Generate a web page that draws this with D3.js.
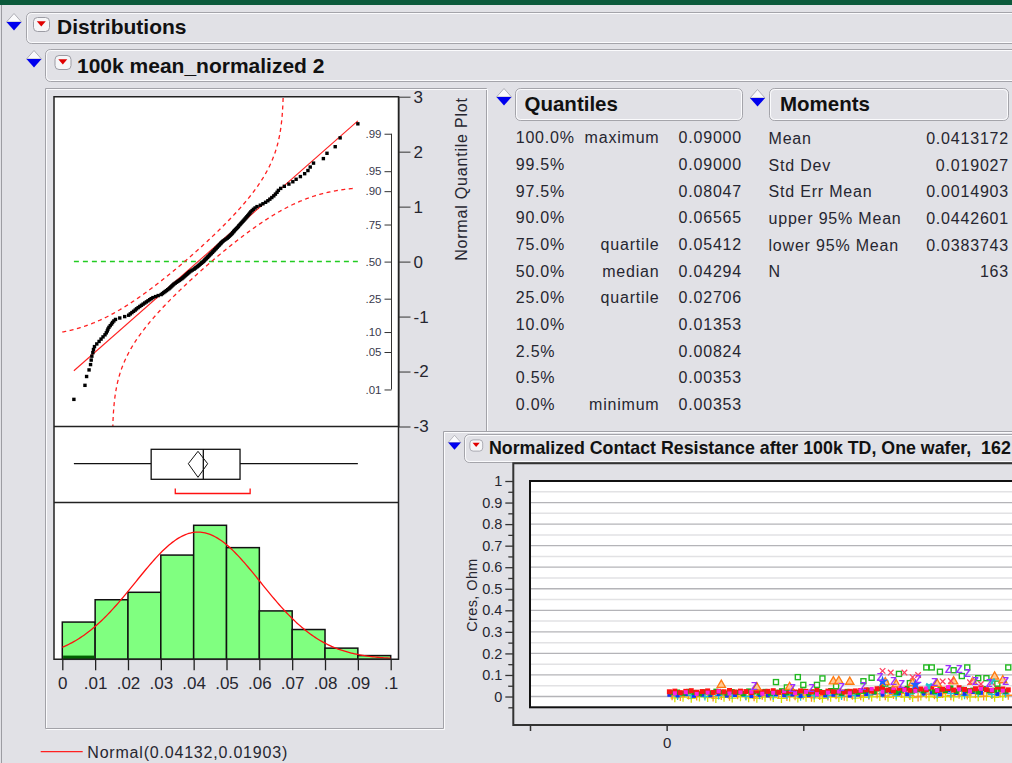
<!DOCTYPE html>
<html lang="en">
<head>
<meta charset="UTF-8">
<title>Distributions - 100k mean_normalized 2</title>
<script src="https://cdn.jsdelivr.net/npm/d3@7"></script>
<style>
  body { margin: 0; background: #e1e1e6; overflow: hidden; }
  svg { display: block; font-family: "Liberation Sans", Arial, sans-serif; }
</style>
</head>
<body>
<script>

const values = [
  0.00353, 0.00690, 0.00740, 0.00815, 0.00860, 0.00880, 0.00900, 0.00930, 0.00950, 0.00980,
  0.0105, 0.0112, 0.0118, 0.0124, 0.0130, 0.0134, 0.0137, 0.0139, 0.0142, 0.0146, 0.0150, 0.0153, 0.0157, 0.0162, 0.0175, 0.0190,
  0.0202, 0.0207, 0.0212, 0.0217, 0.0222, 0.0226, 0.0231, 0.0236, 0.0241, 0.0246, 0.0251, 0.0256, 0.0261, 0.0266, 0.02706, 0.0276, 0.0284, 0.0292,
  0.0301, 0.0305, 0.0309, 0.0313, 0.0317, 0.0321, 0.0325, 0.0328, 0.0331, 0.0334, 0.0337, 0.0340, 0.0344, 0.0348,
  0.0352, 0.0356, 0.0360, 0.0364, 0.0367, 0.0370, 0.0373, 0.0376, 0.0379, 0.0382, 0.0385, 0.0388, 0.0392, 0.0396,
  0.0401, 0.0404, 0.0407, 0.0411, 0.0414, 0.0417, 0.0420, 0.0423, 0.0426, 0.04294, 0.0432, 0.0434, 0.0437, 0.0439, 0.0442, 0.0444,
  0.0447, 0.0449, 0.0452, 0.0454, 0.0457, 0.0459, 0.0462, 0.0464, 0.0467, 0.0469, 0.0472, 0.0474, 0.0477, 0.0479, 0.0482, 0.0484,
  0.0487, 0.0490, 0.0494, 0.0498,
  0.0502, 0.0505, 0.0508, 0.0511, 0.0514, 0.0517, 0.0519, 0.0522, 0.0524, 0.0527, 0.0530, 0.0533, 0.0536, 0.0538, 0.05412,
  0.0544, 0.0547, 0.0550, 0.0553, 0.0556, 0.0559, 0.0562, 0.0565, 0.0568, 0.0571, 0.0574, 0.0578, 0.0582, 0.0587, 0.0593,
  0.0603, 0.0611, 0.0619, 0.0626, 0.0632, 0.0638, 0.0644, 0.0649, 0.0654, 0.0658, 0.0665, 0.0676, 0.0690,
  0.0702, 0.0712, 0.0725, 0.0738, 0.0748, 0.0755, 0.0765, 0.0795,
  0.0806, 0.0831, 0.0846,
  0.0900
];
const binEdges = [0, 0.01, 0.02, 0.03, 0.04, 0.05, 0.06, 0.07, 0.08, 0.09, 0.1];
const binLabels = ["0", ".01", ".02", ".03", ".04", ".05", ".06", ".07", ".08", ".09", ".1"];
const selectedPerBin = [1, 0, 0, 0, 0, 0, 0, 0, 0, 0];
const shortestHalf = [0.0344, 0.0572];

const zTicks = [-3, -2, -1, 0, 1, 2, 3];
const probTicks = [0.01, 0.05, 0.10, 0.25, 0.50, 0.75, 0.90, 0.95, 0.99];
const probLabels = [".01", ".05", ".10", ".25", ".50", ".75", ".90", ".95", ".99"];

// Quantiles table
const qLevels = ["100.0%", "99.5%", "97.5%", "90.0%", "75.0%", "50.0%", "25.0%", "10.0%", "2.5%", "0.5%", "0.0%"];
const qNames = ["maximum", "", "", "", "quartile", "median", "quartile", "", "", "", "minimum"];
const qValues = [0.09000, 0.09000, 0.08047, 0.06565, 0.05412, 0.04294, 0.02706, 0.01353, 0.00824, 0.00353, 0.00353];

// Moments table
const mNames = ["Mean", "Std Dev", "Std Err Mean", "upper 95% Mean", "lower 95% Mean", "N"];
const mValues = [0.0413172, 0.019027, 0.0014903, 0.0442601, 0.0383743, 163];

// Normalized Contact Resistance chart (site number -> Cres, values in milliohm)
const cresTicks = [0, 0.1, 0.2, 0.3, 0.4, 0.5, 0.6, 0.7, 0.8, 0.9, 1];
const cresMinor = [-0.05, 0.05, 0.15, 0.25, 0.35, 0.45, 0.55, 0.65, 0.75, 0.85, 0.95];
const siteTicks = [-50, 0, 50, 100, 150];

const redSites = d3.range(1, 126, 2);
const redMilli = [22,25,18,24,27,20,23,26,19,24,22,28,21,25,23,19,26,22,24,27,20,23,25,21,26,24,22,28,19,25,23,27,21,24,26,
  28,31,25,36,42,30,27,38,33,29,40,35,31,44,28,34,37,30,41,33,27,36,39,32,29,43,35,31];
const greenSites = d3.range(2, 126, 2);
const greenMilli = [18,21,15,24,19,13,22,17,25,20,16,23,19,14,26,21,18,24,15,20,27,17,22,19,25,16,21,23,18,28,20,15,24,22,19,
  24,30,22,35,27,33,20,29,38,25,31,26,36,23,32,28,40,24,34,27,30,21,37,26,29,33,25];
const blueSites = d3.range(1, 126, 3);
const blueMilli = [8,5,11,3,9,6,12,4,7,10,2,8,5,11,6,9,3,7,10,5,8,12,4,9,
  12,18,9,22,15,11,25,14,19,10,28,16,13,21,17,24,12,20];
const orangeSites = d3.range(2, 126, 3);
const orangeMilli = [4,0,7,2,9,-2,5,1,8,3,-1,6,2,10,0,4,7,-3,5,2,8,1,6,3,
  6,12,3,9,15,5,-2,11,8,14,4,10,7,13,2,9,16,6];
const yellowSites = d3.range(3, 126, 3);
const yellowMilli = [-6,-3,-8,-2,-5,-9,-4,-7,-1,-6,-8,-3,-5,-9,-2,-7,-4,-6,-8,-3,-5,-1,-7,-4,
  -2,0,-4,1,-3,-5,2,-1,-4,0,-2,3,-3,-1,1,-4,0];
const magentaSites = d3.range(3, 126, 4);
const magentaMilli = [15,20,12,18,24,14,19,22,13,17,25,16,21,11,18,23,15,
  28,35,22,40,31,26,38,29,44,33,24,36,30,27];
const cyanSites = d3.range(4, 126, 5);
const cyanMilli = [2,6,0,4,8,1,5,3,7,-1,4,6,2,5, 8,14,5,11,18,9,13,6,16,10,12];

const greenOpen = [[40,67],[44,42],[48,90],[50,54],[55,54],[57,84],[62,48],[72,71],[75,87],[80,60],[85,105],[89,62],
  [95,135],[97,135],[100,115],[105,122],[108,95],[110,135],[114,85],[117,85],[121,60],[125,135]];
const orangeTri = [[20,54],[33,42],[45,44],[61,70],[63,72],[67,68],[80,66],[84,56],[90,62],[99,58],[105,70],[112,68],[120,92],[123,75]];
const purpleZ = [[32,50],[46,38],[53,40],[64,42],[72,48],[78,90],[83,70],[86,60],[92,80],[98,68],[103,127],[107,127],[110,110],[113,73],[118,62],[124,70]];
const pinkX = [[79,119],[82,111],[87,111],[90,90],[92,100],[101,70],[104,72],[111,66],[115,58],[119,64]];
const cyanY = [[96,50],[119,72]];
const blueStar = [[79,70],[91,55]];

// ---- helpers
function normCdf(z) {
    let t = 1 / (1 + 0.3275911 * Math.abs(z) / Math.SQRT2);
    let e = 1 - (((((1.061405429 * t - 1.453152027) * t) + 1.421413741) * t - 0.284496736) * t + 0.254829592) * t * Math.exp(-z * z / 2);
    return z >= 0 ? 0.5 * (1 + e) : 0.5 * (1 - e);
}
function normInv(p) {
    const a = [-39.69683028665376, 220.9460984245205, -275.9285104469687, 138.3577518672690, -30.66479806614716, 2.506628277459239];
    const b = [-54.47609879822406, 161.5858368580409, -155.6989798598866, 66.80131188771972, -13.28068155288572];
    const c = [-0.007784894002430293, -0.3223964580411365, -2.400758277161838, -2.549732539343734, 4.374664141464968, 2.938163982698783];
    const d = [0.007784695709041462, 0.3224671290700398, 2.445134137142996, 3.754408661907416];
    let q, r;
    if (p < 0.02425) {
        q = Math.sqrt(-2 * Math.log(p));
        return (((((c[0] * q + c[1]) * q + c[2]) * q + c[3]) * q + c[4]) * q + c[5]) / ((((d[0] * q + d[1]) * q + d[2]) * q + d[3]) * q + 1);
    }
    if (p > 1 - 0.02425) {
        q = Math.sqrt(-2 * Math.log(1 - p));
        return -(((((c[0] * q + c[1]) * q + c[2]) * q + c[3]) * q + c[4]) * q + c[5]) / ((((d[0] * q + d[1]) * q + d[2]) * q + d[3]) * q + 1);
    }
    q = p - 0.5; r = q * q;
    return (((((a[0] * r + a[1]) * r + a[2]) * r + a[3]) * r + a[4]) * r + a[5]) * q / (((((b[0] * r + b[1]) * r + b[2]) * r + b[3]) * r + b[4]) * r + 1);
}

const W = 1012, H = 763;
const txt = "#262630";
const svg = d3.select("body").append("svg").attr("width", W).attr("height", H);

svg.append("rect").attr("width", W).attr("height", H).attr("fill", "#e1e1e6");
svg.append("rect").attr("width", W).attr("height", 5).attr("fill", "#0b5a3b");
svg.append("line").attr("x1", 1.5).attr("x2", 1.5).attr("y1", 5).attr("y2", H).attr("stroke", "#9c9ca2");

function toggle(cx, cy, s) {
    let g = svg.append("g").attr("transform", "translate(" + cx + "," + cy + ") scale(" + (s || 1) + ")");
    g.append("path").attr("d", "M-7.5,0 L0,-8.5 L7.5,0 Z").attr("fill", "#fafafc").attr("stroke", "#a0a0a8").attr("stroke-width", 0.8);
    g.append("path").attr("d", "M-7.5,0 L7.5,0 L0,8.5 Z").attr("fill", "#0000ee");
}
function redButton(x, y, s) {
    let g = svg.append("g").attr("transform", "translate(" + x + "," + y + ") scale(" + (s || 1) + ")");
    g.append("rect").attr("x", 0.5).attr("y", 0.5).attr("width", 16).attr("height", 14).attr("rx", 4)
        .attr("fill", "#f6f6f8").attr("stroke", "#9c9ca4");
    g.append("path").attr("d", "M3.8,4.2 L12.8,4.2 L8.3,9.4 Z").attr("fill", "#e00000");
}
function headerBox(x, y, w, h) {
    svg.append("rect").attr("x", x + 0.5).attr("y", y + 0.5).attr("width", w).attr("height", h).attr("rx", 5)
        .attr("fill", "none").attr("stroke", "#a4a4aa");
    svg.append("rect").attr("x", x + 1.5).attr("y", y + 1.5).attr("width", w - 2).attr("height", h - 2).attr("rx", 4)
        .attr("fill", "none").attr("stroke", "#fbfbfd");
}
function label(x, y, s, size, opts) {
    opts = opts || {};
    return svg.append("text").attr("x", x).attr("y", y).text(s)
        .attr("font-size", size).attr("fill", opts.fill || txt)
        .attr("font-weight", opts.bold ? "bold" : null)
        .attr("text-anchor", opts.anchor || "start")
        .style("letter-spacing", opts.ls === undefined ? "0.8px" : opts.ls)
        .style("white-space", "pre");
}
function etched(d) {
    svg.append("path").attr("d", d).attr("fill", "none").attr("stroke", "#a2a2a8");
    svg.append("path").attr("d", d).attr("fill", "none").attr("stroke", "#fbfbfd").attr("transform", "translate(1,1)");
}

// ---- headers
headerBox(26, 12, 1010, 31);
toggle(14, 22);
redButton(33, 17);
label(57, 34, "Distributions", "21px", {bold: true, ls: "0px", fill: "#111"});

headerBox(45, 49, 990, 32);
toggle(34, 59);
redButton(54.5, 55);
label(77, 73, "100k mean_normalized 2", "21px", {bold: true, ls: "0px", fill: "#111"});

// panel outlines
etched("M45.5,728.5 V88.5 H486.5 V431.5");
etched("M443.5,431.5 H1012");
etched("M443.5,431.5 V728.5 H45.5");

// ---- quantile plot / box plot / histogram
const xVal = d3.scaleLinear().domain([binEdges[0], binEdges[binEdges.length - 1]]).range([62.3, 390.7]);
const zY = d3.scaleLinear().domain([-3, 3]).range([426.5, 96.7]);
const mean = mValues[0], sd = mValues[1], n = values.length;

svg.append("rect").attr("x", 54).attr("y", 96.7).attr("width", 344.5).attr("height", 562.6).attr("fill", "white");

svg.append("clipPath").attr("id", "qclip").append("rect")
    .attr("x", 54).attr("y", 96.7).attr("width", 344.5).attr("height", 329.8);
const qp = svg.append("g").attr("clip-path", "url(#qclip)");

// green median reference line
qp.append("line")
    .attr("x1", xVal(d3.min(values))).attr("x2", xVal(d3.max(values)))
    .attr("y1", zY(0)).attr("y2", zY(0))
    .attr("stroke", "#22cc22").attr("stroke-width", 1.5).attr("stroke-dasharray", "5,4");

// confidence bands
const band = 0.085;
const grid = d3.range(0, 0.0894, 0.00015);
const bandLine = d3.line().defined(d => isFinite(d[1])).x(d => xVal(d[0])).y(d => zY(Math.max(-6, Math.min(6, d[1]))));
const upper = grid.map(x => { let p = normCdf((x - mean) / sd) + band; return [x, p < 1 ? normInv(p) : NaN]; });
const lower = grid.map(x => { let p = normCdf((x - mean) / sd) - band; return [x, p > 0 ? normInv(p) : NaN]; });
[upper, lower].forEach(b => {
    qp.append("path").attr("d", bandLine(b)).attr("fill", "none")
        .attr("stroke", "#ff2020").attr("stroke-width", 1.3).attr("stroke-dasharray", "4,3.5");
});

// fitted normal line
const xmin = d3.min(values), xmax = d3.max(values);
qp.append("line")
    .attr("x1", xVal(xmin)).attr("y1", zY((xmin - mean) / sd))
    .attr("x2", xVal(xmax)).attr("y2", zY((xmax - mean) / sd))
    .attr("stroke", "#ff2020").attr("stroke-width", 1.1);

// data points
qp.selectAll("rect.pt").data(values).enter().append("rect").attr("class", "pt")
    .attr("x", d => xVal(d) - 1.7)
    .attr("y", (d, i) => zY(normInv((i + 1) / (n + 1))) - 1.7)
    .attr("width", 3.4).attr("height", 3.4).attr("fill", "#000");

// probability axis inside the plot
const probAxis = svg.append("g").attr("transform", "translate(391.5,0)")
    .call(d3.axisLeft(zY).tickValues(probTicks.map(normInv)).tickSize(7).tickFormat((d, i) => probLabels[i]));
probAxis.select(".domain").remove();
probAxis.attr("font-family", null).attr("font-size", "11.5px");
probAxis.selectAll("line").attr("stroke", "#333");
probAxis.selectAll("text").attr("fill", "#3a3a4c");
svg.append("line").attr("x1", 391.5).attr("x2", 391.5)
    .attr("y1", zY(normInv(probTicks[probTicks.length - 1]))).attr("y2", zY(normInv(probTicks[0])))
    .attr("stroke", "#333");

// normal quantile axis
const zAxis = svg.append("g").attr("transform", "translate(398.5,0)")
    .call(d3.axisRight(zY).tickValues(zTicks).tickSize(12).tickSizeOuter(0).tickFormat(d => String(d)));
zAxis.attr("font-family", null).attr("font-size", "17px");
zAxis.selectAll("line").attr("stroke", "#333");
zAxis.select(".domain").attr("stroke", "#333");
zAxis.selectAll("text").attr("fill", txt);

svg.append("text").attr("transform", "translate(467,179) rotate(-90)")
    .attr("text-anchor", "middle").attr("font-size", "16px").attr("fill", txt)
    .style("letter-spacing", "0.8px").text("Normal Quantile Plot");

// box plot
const yc = 463.7, bTop = 449.3, bBot = 479.3;
const bp = svg.append("g").attr("stroke", "#111").attr("fill", "none").attr("stroke-width", 1.3);
bp.append("line").attr("x1", xVal(qValues[10])).attr("x2", xVal(qValues[6])).attr("y1", yc).attr("y2", yc);
bp.append("line").attr("x1", xVal(qValues[4])).attr("x2", xVal(qValues[0])).attr("y1", yc).attr("y2", yc);
bp.append("rect").attr("x", xVal(qValues[6])).attr("y", bTop)
    .attr("width", xVal(qValues[4]) - xVal(qValues[6])).attr("height", bBot - bTop).attr("fill", "white");
bp.append("line").attr("x1", xVal(qValues[5])).attr("x2", xVal(qValues[5])).attr("y1", bTop).attr("y2", bBot);
bp.append("path").attr("stroke-width", 1)
    .attr("d", "M" + xVal(mValues[4]) + "," + yc + " L" + xVal(mean) + "," + (bTop + 2) +
        " L" + xVal(mValues[3]) + "," + yc + " L" + xVal(mean) + "," + (bBot - 2) + " Z");
svg.append("path").attr("fill", "none").attr("stroke", "#ff1010").attr("stroke-width", 1.3)
    .attr("d", "M" + xVal(shortestHalf[0]) + ",488.5 V493.5 H" + xVal(shortestHalf[1]) + " V488.5");

// histogram
const bins = d3.bin().domain([binEdges[0], binEdges[binEdges.length - 1]]).thresholds(binEdges.slice(1, -1))(values);
const hY = d3.scaleLinear().domain([0, d3.max(bins, b => b.length)]).range([659.3, 525.3]);
svg.selectAll("rect.bar").data(bins).enter().append("rect").attr("class", "bar")
    .attr("x", d => xVal(d.x0)).attr("y", d => hY(d.length))
    .attr("width", d => xVal(d.x1) - xVal(d.x0)).attr("height", d => hY(0) - hY(d.length))
    .attr("fill", "#80ff80").attr("stroke", "#111").attr("stroke-width", 1.5);
svg.selectAll("rect.sel").data(bins).enter().append("rect").attr("class", "sel")
    .attr("x", d => xVal(d.x0) + 0.8).attr("y", (d, i) => hY(selectedPerBin[i]))
    .attr("width", d => xVal(d.x1) - xVal(d.x0) - 1.6).attr("height", (d, i) => hY(0) - hY(selectedPerBin[i]))
    .attr("fill", "#006000");

const binW = binEdges[1] - binEdges[0];
const curve = d3.range(0, 0.1001, 0.0005).map(x => [x, n * binW * Math.exp(-0.5 * ((x - mean) / sd) ** 2) / (sd * Math.sqrt(2 * Math.PI))]);
svg.append("path").attr("fill", "none").attr("stroke", "#ff1010").attr("stroke-width", 1.3)
    .attr("d", d3.line().x(d => xVal(d[0])).y(d => hY(d[1]))(curve));

const hAxis = svg.append("g").attr("transform", "translate(0,659.3)")
    .call(d3.axisBottom(xVal).tickValues(binEdges).tickSize(11).tickSizeOuter(0).tickFormat((d, i) => binLabels[i]));
hAxis.attr("font-family", null).attr("font-size", "17px");
hAxis.select(".domain").remove();
hAxis.selectAll("line").attr("stroke", "#222").attr("stroke-width", 1.3);
hAxis.selectAll("text").attr("fill", txt).attr("dy", "0.95em");

// panel frame lines
svg.append("path").attr("fill", "none").attr("stroke", "#222").attr("stroke-width", 1.5)
    .attr("d", "M54,96.7 H398.5 V659.3 H54 Z M54,502.5 H398.5 M54,426.5 H398.5");

// legend
svg.append("line").attr("x1", 40.7).attr("x2", 82.7).attr("y1", 751.7).attr("y2", 751.7).attr("stroke", "#ff2020").attr("stroke-width", 1.3);
label(87.3, 757.5, "Normal(" + d3.format(".5f")(mean) + "," + d3.format(".5f")(sd) + ")", "16px");

// ---- Quantiles table
headerBox(515, 88, 227, 32);
toggle(504, 97);
label(524.5, 111, "Quantiles", "20.5px", {bold: true, ls: "0px", fill: "#111"});
qLevels.forEach((q, i) => {
    let y = 143.3 + i * 26.67;
    label(515.7, y, q, "16px");
    label(659.5, y, qNames[i], "16px", {anchor: "end"});
    label(742, y, d3.format(".5f")(qValues[i]), "16px", {anchor: "end"});
});

// ---- Moments table
headerBox(769, 88, 239, 32);
toggle(757.5, 98);
label(780, 111, "Moments", "20.5px", {bold: true, ls: "0px", fill: "#111"});
mNames.forEach((m, i) => {
    let y = 144 + i * 26.67;
    label(768.5, y, m, "16px");
    label(1009, y, String(mValues[i]), "16px", {anchor: "end"});
});

// ---- Normalized Contact Resistance chart
headerBox(464, 434, 600, 28);
toggle(454.5, 442.5, 0.85);
redButton(469.5, 439.5, 0.8);
label(489, 453.5, "Normalized Contact Resistance after 100k TD, One wafer,  162", "17.8px", {bold: true, ls: "0px", fill: "#111"});

const sx = d3.scaleLinear().domain([siteTicks[0], siteTicks[siteTicks.length - 1]]).range([530, 530 + 200 * 2.733]);
const sy = d3.scaleLinear().domain([cresMinor[0], cresTicks[cresTicks.length - 1]]).range([707.3, 481]);

svg.append("rect").attr("x", 530).attr("y", 481).attr("width", 600).attr("height", sy(cresMinor[0]) - sy(1)).attr("fill", "white");
svg.selectAll("line.minor").data(cresMinor.slice(1)).enter().append("line").attr("class", "minor")
    .attr("x1", 530).attr("x2", 1012).attr("y1", d => sy(d)).attr("y2", d => sy(d))
    .attr("stroke", "#e2e2e4").attr("stroke-width", 1.5);
svg.selectAll("line.major").data(cresTicks.slice(0, -1)).enter().append("line").attr("class", "major")
    .attr("x1", 530).attr("x2", 1012).attr("y1", d => sy(d)).attr("y2", d => sy(d))
    .attr("stroke", "#b4b4b8").attr("stroke-width", 1.3);

svg.append("clipPath").attr("id", "sclip").append("rect")
    .attr("x", 531).attr("y", 482).attr("width", 600).attr("height", sy(cresMinor[0]) - sy(1) - 2);
const sp = svg.append("g").attr("clip-path", "url(#sclip)");

function squares(sites, milli, size, fill, stroke) {
    sp.append("g").selectAll("rect").data(milli).enter().append("rect")
        .attr("x", (d, i) => sx(sites[i]) - size / 2).attr("y", d => sy(d / 1000) - size / 2)
        .attr("width", size).attr("height", size)
        .attr("fill", fill).attr("stroke", stroke || "none").attr("stroke-width", 1.4);
}
function symbols(sites, milli, type, size, fill, stroke) {
    sp.append("g").selectAll("path").data(milli).enter().append("path")
        .attr("transform", (d, i) => "translate(" + sx(sites[i]) + "," + sy(d / 1000) + ")")
        .attr("d", d3.symbol().type(type).size(size))
        .attr("fill", fill).attr("stroke", stroke || "none").attr("stroke-width", 1.3);
}
const plus = d3.symbolPlus || d3.symbolCross;
const times = d3.symbolTimes || d3.symbolX || d3.symbolCross;

symbols(yellowSites, yellowMilli, plus, 28, "none", "#d6e000");
symbols(orangeSites, orangeMilli, plus, 28, "none", "#ff8c1a");
symbols(cyanSites, cyanMilli, plus, 22, "none", "#18c8d8");
squares(blueSites, blueMilli, 4, "#1530ff");
squares(greenSites, greenMilli, 5, "#12b012");
squares(redSites, redMilli, 5, "#ff1414");
squares(magentaSites, magentaMilli, 4, "#ff20e0");

squares(greenOpen.map(d => d[0]), greenOpen.map(d => d[1]), 5, "white", "#22b822");
symbols(orangeTri.map(d => d[0]), orangeTri.map(d => d[1]), d3.symbolTriangle, 30, "#ffc890", "#ff7a10");
symbols(pinkX.map(d => d[0]), pinkX.map(d => d[1]), times, 22, "none", "#ff4060");
symbols(cyanY.map(d => d[0]), cyanY.map(d => d[1]), d3.symbolWye, 26, "#20c0d0");
symbols(blueStar.map(d => d[0]), blueStar.map(d => d[1]), d3.symbolStar, 40, "#2060ff");
sp.append("g").selectAll("text").data(purpleZ).enter().append("text")
    .attr("x", d => sx(d[0])).attr("y", d => sy(d[1] / 1000) + 4)
    .attr("text-anchor", "middle").attr("font-size", "11px").attr("font-weight", "bold")
    .attr("fill", "#9a30ff").text("Z");

svg.append("rect").attr("x", 530).attr("y", 481).attr("width", 600).attr("height", sy(cresMinor[0]) - sy(1))
    .attr("fill", "none").attr("stroke", "#111").attr("stroke-width", 2);

// outer frame and axes
svg.append("path").attr("fill", "none").attr("stroke", "#333").attr("stroke-width", 2)
    .attr("d", "M1020,463.3 H513.3 V725 H1020");

const yMinor = svg.append("g").attr("transform", "translate(513.3,0)")
    .call(d3.axisLeft(sy).tickValues(cresMinor).tickSize(5).tickFormat(""));
yMinor.select(".domain").remove();
yMinor.selectAll("line").attr("stroke", "#333").attr("stroke-width", 1.3);

const yAxis = svg.append("g").attr("transform", "translate(513.3,0)")
    .call(d3.axisLeft(sy).tickValues(cresTicks).tickSize(8).tickFormat(d => String(d)));
yAxis.select(".domain").remove();
yAxis.attr("font-family", null).attr("font-size", "14.5px");
yAxis.selectAll("line").attr("stroke", "#333").attr("stroke-width", 1.3);
yAxis.selectAll("text").attr("fill", txt);

const xAxis = svg.append("g").attr("transform", "translate(0,725)")
    .call(d3.axisBottom(sx).tickValues(siteTicks).tickSize(6).tickFormat(d => d === 0 ? "0" : ""));
xAxis.select(".domain").remove();
xAxis.attr("font-family", null).attr("font-size", "15px");
xAxis.selectAll("line").attr("stroke", "#333").attr("stroke-width", 1.5);
xAxis.selectAll("text").attr("fill", txt).attr("dy", "0.95em");

svg.append("text").attr("transform", "translate(476.5,595) rotate(-90)")
    .attr("text-anchor", "middle").attr("font-size", "14.5px").attr("fill", txt)
    .style("letter-spacing", "0.4px").text("Cres, Ohm");

</script>
</body>
</html>
